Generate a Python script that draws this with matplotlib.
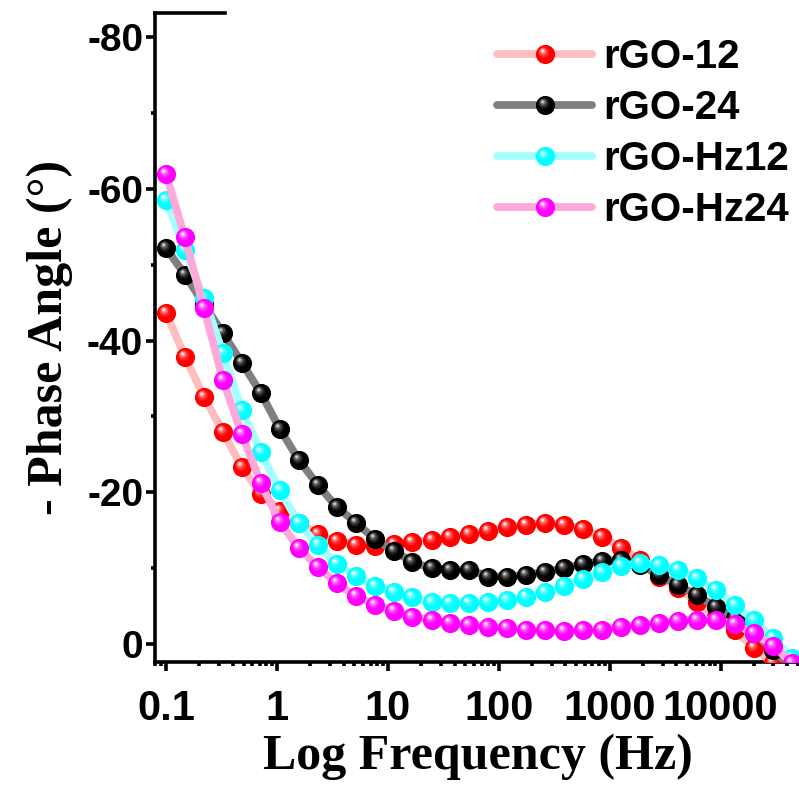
import numpy as np
import matplotlib
matplotlib.use("Agg")
import matplotlib.pyplot as plt
from matplotlib.path import Path
from matplotlib.markers import MarkerStyle
from matplotlib.legend_handler import HandlerTuple
from matplotlib.ticker import FixedLocator, FixedFormatter, MultipleLocator, LogLocator, NullFormatter
import matplotlib.colors as mcolors

plt.rcParams['axes.unicode_minus'] = False

# ---------------- data ----------------
freq = [0.1, 0.148, 0.22, 0.326, 0.483, 0.716, 1.06, 1.57, 2.33, 3.46, 5.13, 7.6,
        11.3, 16.7, 24.8, 36.7, 54.5, 80.7, 120, 177, 263, 390, 578, 857, 1271,
        1884, 2793, 4140, 6138, 9099, 13490, 20000, 29650, 43950]

rgo12 = [-43.7, -37.9, -32.6, -28.0, -23.3, -19.8, -17.6, -16.0, -14.5, -13.6, -13.1, -12.9,
         -13.2, -13.5, -13.7, -14.1, -14.5, -14.9, -15.4, -15.7, -16.0, -15.7, -15.2, -14.1,
         -12.7, -11.1, -8.9, -7.4, -5.5, -3.6, -1.8, 0.5, 2.5, 4.0]
rgo24 = [-52.2, -48.7, -44.8, -41.0, -37.1, -33.1, -28.4, -24.3, -21.0, -18.1, -16.0, -13.9,
         -12.3, -10.8, -10.0, -9.8, -9.8, -8.9, -8.9, -9.1, -9.5, -10.0, -10.5, -11.0,
         -11.1, -10.4, -9.1, -7.8, -6.4, -4.9, -3.4, -1.5, 0.8, 3.0]
rgohz12 = [-58.6, -52.0, -45.6, -38.4, -30.9, -25.3, -20.3, -16.0, -13.0, -10.5, -9.0, -7.7,
           -6.8, -6.2, -5.5, -5.4, -5.4, -5.5, -5.8, -6.2, -6.9, -7.7, -8.6, -9.5,
           -10.3, -10.7, -10.4, -9.8, -8.7, -7.1, -5.1, -3.2, -0.8, 1.8]
rgohz24 = [-62.0, -53.6, -44.3, -34.8, -27.7, -21.2, -16.1, -12.7, -10.2, -8.0, -6.3, -5.2,
           -4.4, -3.6, -3.2, -2.8, -2.5, -2.3, -2.1, -1.8, -1.8, -1.7, -1.8, -1.9,
           -2.3, -2.5, -2.8, -3.1, -3.2, -3.2, -2.6, -1.4, 0.2, 2.5]

labels = ['rGO-12', 'rGO-24', 'rGO-Hz12', 'rGO-Hz24']
series = [rgo12, rgo24, rgohz12, rgohz24]
ball_colors = ['#FF0000', '#000000', '#00FFFF', '#FF00FF']
line_colors = ['#FFBDBD', '#7F7F7F', '#A6FFFF', '#FFA9DA']

xticks = [0.1, 1, 10, 100, 1000, 10000]
xticklabels = ['0.1', '1', '10', '100', '1000', '10000']
yticks = [-80, -60, -40, -20, 0]
yticklabels = ['-80', '-60', '-40', '-20', '0']

# ---------------- figure ----------------
fig = plt.figure(figsize=(7.99, 7.88), dpi=100)
ax = fig.add_axes([155 / 799, 126 / 788, 1 - 155 / 799 + 0.002, (662 - 13) / 788])

SANS = 'Liberation Sans'
SERIF = 'Liberation Serif'


def offset_circle_marker(cx, cy, r):
    """Circle marker drawn in the same frame as the ball marker (ball radius = 1)."""
    anchor = Path([(-1, -1), (1, 1)], [Path.MOVETO, Path.MOVETO])
    circ = Path.circle((cx, cy), r)
    return MarkerStyle(Path.make_compound_path(anchor, circ))


layers = [  # (cx, cy, r, white blend)
    (-0.18, 0.22, 0.55, 0.14),
    (-0.24, 0.30, 0.40, 0.34),
    (-0.28, 0.35, 0.25, 0.62),
    (-0.30, 0.38, 0.13, 0.95),
]


def blend(c, t):
    rgb = np.array(mcolors.to_rgb(c))
    return tuple(rgb + (1 - rgb) * t)


ms = 13.8
handles = []
for k, (vals, bc, lc) in enumerate(zip(series, ball_colors, line_colors)):
    z = 3 + 2 * k
    ln, = ax.plot(freq, vals, '-', color=lc, lw=5.6, zorder=z, solid_capstyle='round')
    parts = [ln]
    base, = ax.plot(freq, vals, 'o', ls='none', ms=ms, mfc=bc, mec='none', zorder=z + 0.5)
    parts.append(base)
    for i, (cx, cy, r, t) in enumerate(layers):
        hl, = ax.plot(freq, vals, ls='none', marker=offset_circle_marker(cx, cy, r), ms=ms,
                      mfc=blend(bc, t if bc != '#000000' else t * 0.85), mec='none', mew=0,
                      zorder=z + 0.6 + 0.05 * i)
        parts.append(hl)
    handles.append(tuple(parts))

ax.set_xscale('log')
ax.set_xlim(10 ** -1.099, 10 ** 4.722)
ax.set_ylim(2.37, -83.2)

ax.xaxis.set_major_locator(FixedLocator(xticks))
ax.xaxis.set_major_formatter(FixedFormatter(xticklabels))
ax.xaxis.set_minor_locator(LogLocator(base=10, subs=np.arange(2, 10), numticks=20))
ax.xaxis.set_minor_formatter(NullFormatter())
ax.yaxis.set_major_locator(FixedLocator(yticks))
ax.yaxis.set_major_formatter(FixedFormatter(yticklabels))
ax.yaxis.set_minor_locator(MultipleLocator(10))

for s in ['left', 'bottom', 'top']:
    ax.spines[s].set_linewidth(2.6)
ax.spines['right'].set_visible(False)
ax.spines['top'].set_bounds(10 ** -1.099, 10 ** -0.47)

ax.tick_params(which='major', direction='out', length=6.5, width=2.6, pad=2)
ax.tick_params(which='minor', direction='out', length=3.2, width=2.6)
ax.tick_params(axis='x', which='major', pad=13)
for lab in ax.get_yticklabels():
    lab.set_fontfamily(SANS)
    lab.set_fontweight('bold')
    lab.set_fontsize(28)
for lab in ax.get_xticklabels():
    lab.set_fontfamily(SANS)
    lab.set_fontweight('bold')
    lab.set_fontsize(30)

ax.set_xlabel('Log Frequency (Hz)', fontfamily=SERIF, fontweight='bold', fontsize=36, labelpad=3)
ax.set_ylabel('- Phase Angle (°)', fontfamily=SERIF, fontweight='bold', fontsize=36, labelpad=10)

leg = ax.legend(handles, labels, handler_map={tuple: HandlerTuple(ndivide=1)},
                loc='upper left', bbox_to_anchor=(497 / 799, 1 - 38 / 788),
                bbox_transform=fig.transFigure, frameon=False,
                prop={'family': SANS, 'weight': 'bold', 'size': 29},
                handlelength=2.37, handletextpad=0.28, labelspacing=0.32, borderaxespad=0,
                borderpad=0)
leg.set_zorder(20)

fig.savefig('out.png', dpi=100)
